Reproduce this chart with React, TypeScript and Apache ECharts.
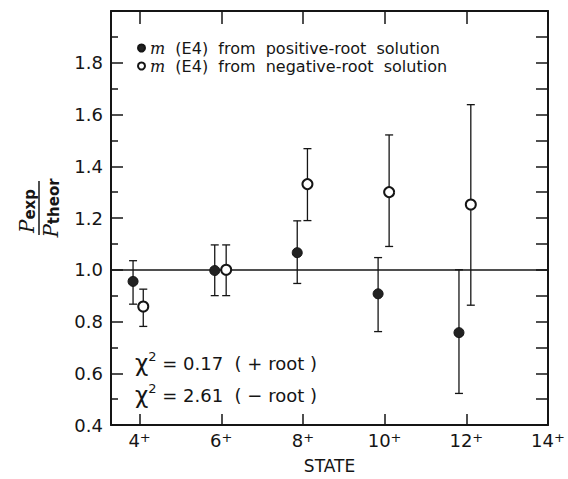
import React, { useEffect, useRef } from "react";
import * as echarts from "echarts";

const stateTicks = [4, 6, 8, 10, 12, 14];
const posX = [3.84, 5.84, 7.86, 9.84, 11.82];
const posY = [0.955, 0.997, 1.066, 0.907, 0.757];
const posLow = [0.867, 0.9, 0.947, 0.761, 0.522];
const posHigh = [1.035, 1.096, 1.189, 1.047, 1.0];
const negX = [4.09, 6.12, 8.11, 10.11, 12.11];
const negY = [0.858, 1.0, 1.331, 1.3, 1.252];
const negLow = [0.781, 0.9, 1.19, 1.09, 0.863];
const negHigh = [0.925, 1.096, 1.468, 1.521, 1.638];
const chiTexts = ["0.17  ( + root )", "2.61  ( − root )"];

const INK = "#151515";
const FONT = "DejaVu Sans";

function errorRender(params: any, api: any) {
  const x = api.value(0);
  const lo = api.value(1);
  const hi = api.value(2);
  const p1 = api.coord([x, hi]);
  const p2 = api.coord([x, lo]);
  const hw = 4;
  const st = { stroke: INK, lineWidth: 1.3 };
  return {
    type: "group",
    children: [
      { type: "line", shape: { x1: p1[0], y1: p1[1], x2: p2[0], y2: p2[1] }, style: st },
      { type: "line", shape: { x1: p1[0] - hw, y1: p1[1], x2: p1[0] + hw, y2: p1[1] }, style: st },
      { type: "line", shape: { x1: p2[0] - hw, y1: p2[1], x2: p2[0] + hw, y2: p2[1] }, style: st },
    ],
  };
}

export default function App() {
  const ref = useRef<HTMLDivElement>(null);
  useEffect(() => {
    if (!ref.current) return;
    const chart = echarts.init(ref.current, null, { renderer: "svg" });
    const xLabelRich = {
      n: { fontFamily: FONT, fontSize: 18, color: INK },
      s: { fontFamily: FONT, fontSize: 13, color: INK, verticalAlign: "top" as const, lineHeight: 12 },
    };
    const option: any = {
      animation: false,
      backgroundColor: "#fff",
      grid: { left: 111, right: 20, top: 11, bottom: 44, containLabel: false },
      legend: {
        orient: "vertical",
        left: 132,
        top: 35,
        itemWidth: 7,
        itemHeight: 7,
        itemGap: 2,
        data: [
          { name: "pos", icon: "circle" },
          { name: "neg", icon: "circle" },
        ],
        formatter: (name: string) =>
          name === "pos"
            ? "{m|m}  (E4)  from  positive-root  solution"
            : "{m|m}  (E4)  from  negative-root  solution",
        textStyle: {
          fontFamily: FONT,
          fontSize: 16,
          color: INK,
          lineHeight: 16,
          rich: {
            m: { fontFamily: "DejaVu Serif", fontStyle: "italic", fontSize: 16, color: INK, lineHeight: 16 },
          },
        },
      },
      xAxis: [
        {
          type: "value",
          min: 3.3,
          max: 14,
          name: "STATE",
          nameLocation: "middle",
          nameGap: 32,
          nameTextStyle: { fontFamily: FONT, fontSize: 17, color: INK },
          axisLine: { show: true, lineStyle: { color: INK, width: 2 } },
          axisTick: { show: true, inside: true, length: 11, customValues: stateTicks, lineStyle: { color: INK, width: 1.5 } },
          axisLabel: {
            customValues: stateTicks,
            margin: 6,
            formatter: (v: number) => `{n|${v}}{s|+}`,
            rich: xLabelRich,
          },
          splitLine: { show: false },
        },
        {
          type: "value",
          position: "top",
          min: 3.3,
          max: 14,
          axisLine: { show: true, lineStyle: { color: INK, width: 2 } },
          axisTick: { show: true, inside: true, length: 13, customValues: stateTicks, lineStyle: { color: INK, width: 1.5 } },
          axisLabel: { show: false },
          splitLine: { show: false },
        },
      ],
      yAxis: [
        {
          type: "value",
          min: 0.4,
          max: 2.0,
          interval: 0.2,
          axisLine: { show: true, lineStyle: { color: INK, width: 2 } },
          axisTick: { show: true, inside: true, length: 12, lineStyle: { color: INK, width: 1.5 } },
          minorTick: { show: true, splitNumber: 2, length: 7, lineStyle: { color: INK, width: 1.5 } },
          axisLabel: {
            margin: 8,
            fontFamily: FONT,
            fontSize: 18,
            color: INK,
            formatter: (v: number) => (v > 1.95 ? "" : v.toFixed(1)),
          },
          splitLine: { show: false },
          minorSplitLine: { show: false },
        },
        {
          type: "value",
          position: "right",
          min: 0.4,
          max: 2.0,
          interval: 0.1,
          axisLine: { show: true, lineStyle: { color: INK, width: 2 } },
          axisTick: { show: true, inside: true, length: 12, lineStyle: { color: INK, width: 1.5 } },
          axisLabel: { show: false },
          splitLine: { show: false },
        },
      ],
      series: [
        {
          type: "custom",
          name: "posErr",
          renderItem: errorRender,
          encode: { x: 0, y: [1, 2] },
          data: posX.map((x, i) => [x, posLow[i], posHigh[i]]),
          z: 2,
          silent: true,
        },
        {
          type: "custom",
          name: "negErr",
          renderItem: errorRender,
          encode: { x: 0, y: [1, 2] },
          data: negX.map((x, i) => [x, negLow[i], negHigh[i]]),
          z: 2,
          silent: true,
        },
        {
          type: "scatter",
          name: "pos",
          symbol: "circle",
          symbolSize: 10,
          itemStyle: { color: "#222", borderColor: INK, borderWidth: 1, opacity: 1 },
          data: posX.map((x, i) => [x, posY[i]]),
          z: 5,
          markLine: {
            silent: true,
            symbol: ["none", "none"],
            label: { show: false },
            lineStyle: { color: INK, width: 1.5, type: "solid" },
            data: [{ yAxis: 1.0 }],
          },
        },
        {
          type: "scatter",
          name: "neg",
          symbol: "circle",
          symbolSize: 10,
          itemStyle: { color: "#fff", borderColor: INK, borderWidth: 2, opacity: 1 },
          data: negX.map((x, i) => [x, negY[i]]),
          z: 5,
        },
      ],
      graphic: [
        {
          type: "group",
          x: 39,
          y: 208,
          rotation: Math.PI / 2,
          children: [
            { type: "line", shape: { x1: -27, y1: 0, x2: 27, y2: 0 }, style: { stroke: INK, lineWidth: 1.5 } },
            {
              type: "text",
              x: -3,
              y: -2,
              style: {
                text: "{p|P}{s|exp}",
                align: "center",
                verticalAlign: "bottom",
                fill: INK,
                rich: {
                  p: { fontFamily: "DejaVu Serif", fontStyle: "italic", fontSize: 20, fill: INK, color: INK },
                  s: { fontFamily: FONT, fontSize: 15, fontWeight: "bold", fill: INK, color: INK, verticalAlign: "bottom" },
                },
              },
            },
            {
              type: "text",
              x: 0,
              y: 2,
              style: {
                text: "{p|P}{s|theor}",
                align: "center",
                verticalAlign: "top",
                fill: INK,
                rich: {
                  p: { fontFamily: "DejaVu Serif", fontStyle: "italic", fontSize: 20, fill: INK, color: INK },
                  s: { fontFamily: FONT, fontSize: 15, fontWeight: "bold", fill: INK, color: INK, verticalAlign: "bottom" },
                },
              },
            },
          ],
        },
        ...chiTexts.map((t, i) => ({
          type: "text",
          left: 135,
          top: 350 + i * 32,
          style: {
            text: `{c|χ}{s|2}{t| = ${t}}`,
            fill: INK,
            rich: {
              c: { fontFamily: FONT, fontSize: 23, fill: INK, color: INK, lineHeight: 26 },
              s: { fontFamily: FONT, fontSize: 13, fill: INK, color: INK, verticalAlign: "top", lineHeight: 13 },
              t: { fontFamily: FONT, fontSize: 18, fill: INK, color: INK, lineHeight: 26 },
            },
          },
        })),
      ],
    };
    chart.setOption(option);
    return () => chart.dispose();
  }, []);
  return <div ref={ref} style={{ width: 568, height: 479, position: "absolute", left: 0, top: 0 }} />;
}
